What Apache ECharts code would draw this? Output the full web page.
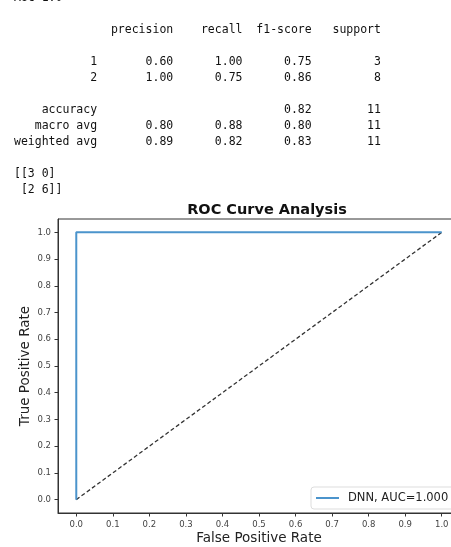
<!DOCTYPE html>
<html style="height: 100%">
	<head>
		<meta charset="utf-8" />
		<title>ROC Curve Analysis</title>
		<script src="https://cdn.jsdelivr.net/npm/echarts@6/dist/echarts.min.js"></script>
	</head>
	<body style="height: 100%; margin: 0; background: #fff">
		<div id="container" style="width: 451px; height: 547px"></div>
		<script type="text/javascript">
			// classification report
			let aucLine = "AUC 1.0";
			let reportHeaders = ["precision", "recall", "f1-score", "support"];
			let classLabels = ["1", "2"];
			let classPrecision = [0.60, 1.00];
			let classRecall = [1.00, 0.75];
			let classF1 = [0.75, 0.86];
			let classSupport = [3, 8];
			let accuracy = 0.82;
			let totalSupport = 11;
			let macroAvg = [0.80, 0.88, 0.80];
			let weightedAvg = [0.89, 0.82, 0.83];
			let confusion = [[3, 0], [2, 6]];

			// ROC data
			let fpr = [0, 0, 1];
			let tpr = [0, 1, 1];
			let chanceX = [0, 1];
			let chanceY = [0, 1];
			let rocName = "DNN, AUC=1.000";
			let tickValues = [0, 0.1, 0.2, 0.3, 0.4, 0.5, 0.6, 0.7, 0.8, 0.9, 1.0];

			//build report text like sklearn does
			const pad = (s, n) => String(s).padStart(n, " ");
			const W = 12;
			let lines = [];
			lines.push(pad("", W) + " " + reportHeaders.map((h) => " " + pad(h, 9)).join(""));
			lines.push("");
			classLabels.forEach((c, i) => {
				lines.push(pad(c, W) + " " +
					[classPrecision[i], classRecall[i], classF1[i]].map((v) => " " + pad(v.toFixed(2), 9)).join("") +
					" " + pad(classSupport[i], 9));
			});
			lines.push("");
			lines.push(pad("accuracy", W) + " " + " " + pad("", 9) + " " + pad("", 9) + " " + pad(accuracy.toFixed(2), 9) + " " + pad(totalSupport, 9));
			lines.push(pad("macro avg", W) + " " + macroAvg.map((v) => " " + pad(v.toFixed(2), 9)).join("") + " " + pad(totalSupport, 9));
			lines.push(pad("weighted avg", W) + " " + weightedAvg.map((v) => " " + pad(v.toFixed(2), 9)).join("") + " " + pad(totalSupport, 9));
			lines.push("");
			lines.push("[" + confusion.map((r) => "[" + r.join(" ") + "]").join("\n ") + "]");
			let reportText = lines.join("\n");

			const mono = "'DejaVu Sans Mono', 'Liberation Mono', monospace";
			const sans = "DejaVu Sans";

			let container = document.getElementById("container");
			let chart = echarts.init(container);
			chart.setOption({
				backgroundColor: "#fff",
				animation: false,
				title: {
					text: "ROC Curve Analysis",
					left: 262,
					textAlign: "center",
					top: 198,
					textStyle: { fontFamily: sans, fontSize: 14.5, fontWeight: "bold", color: "#111" },
				},
				graphic: [
					{
						type: "text", left: 14, top: -8,
						style: { text: aucLine, font: "11.5px " + mono, fill: "#111" },
					},
					{
						type: "text", left: 14, top: 22,
						style: { text: reportText, font: "11.5px " + mono, fill: "#111", lineHeight: 16 },
					},
				],
				grid: {
					left: 58, top: 219, width: 402, height: 294,
					outerBoundsMode: "none",
					containLabel: false,
					show: true, borderColor: "#333", borderWidth: 1,
				},
				legend: {
					left: 311, top: 487,
					orient: "vertical",
					data: [{ name: rocName, icon: "rect" }],
					itemWidth: 23, itemHeight: 2,
					itemGap: 0,
					padding: [5, 6, 5, 5],
					borderColor: "#ddd", borderWidth: 1, borderRadius: 3,
					backgroundColor: "#fff",
					textStyle: { fontFamily: sans, fontSize: 11.5, color: "#222", padding: [0, 0, 0, 4] },
				},
				xAxis: {
					type: "value", min: -0.05, max: 1.05,
					name: "False Positive Rate", nameLocation: "middle", nameGap: 18,
					nameMoveOverlap: false,
					nameTextStyle: { fontFamily: sans, fontSize: 13.5, color: "#222" },
					splitLine: { show: false },
					axisLine: { show: true, onZero: false, lineStyle: { color: "#333" } },
					axisTick: { show: true, length: 3.5, customValues: tickValues, lineStyle: { color: "#333" } },
					axisLabel: {
						customValues: tickValues, margin: 7,
						formatter: (v) => v.toFixed(1),
						fontFamily: sans, fontSize: 8.5, color: "#444",
					},
				},
				yAxis: {
					type: "value", min: -0.05, max: 1.05,
					name: "True Positive Rate", nameLocation: "middle", nameGap: 26,
					nameMoveOverlap: false,
					nameTextStyle: { fontFamily: sans, fontSize: 13.5, color: "#222" },
					splitLine: { show: false },
					axisLine: { show: true, onZero: false, lineStyle: { color: "#333" } },
					axisTick: { show: true, length: 3.5, customValues: tickValues, lineStyle: { color: "#333" } },
					axisLabel: {
						customValues: tickValues, margin: 7,
						formatter: (v) => v.toFixed(1),
						fontFamily: sans, fontSize: 8.5, color: "#444",
					},
				},
				series: [
					{
						name: rocName, type: "line", symbol: "none",
						data: fpr.map((x, i) => [x, tpr[i]]),
						lineStyle: { color: "#4b94cc", width: 2 },
						itemStyle: { color: "#4b94cc" },
						z: 3,
					},
					{
						name: "chance", type: "line", symbol: "none",
						data: chanceX.map((x, i) => [x, chanceY[i]]),
						lineStyle: { color: "#333", width: 1.3, type: [4, 2.5] },
						z: 2,
					},
				],
			});
		</script>
	</body>
</html>
